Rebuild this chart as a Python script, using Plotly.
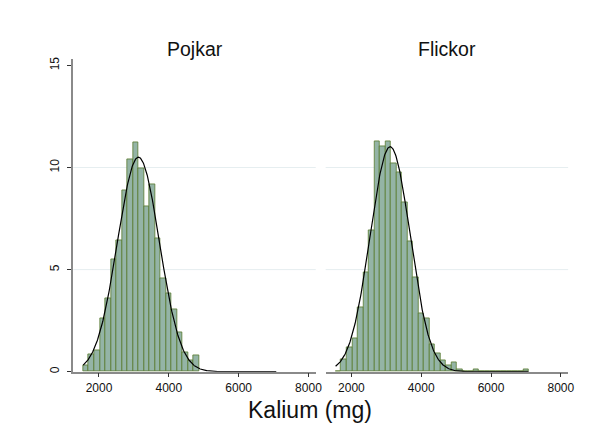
import numpy as np
import plotly.graph_objects as go

# ---- data ----
bin_start = 1548.0
bin_width = 158.0
panel_titles = ["Pojkar", "Flickor"]
x_title = "Kalium (mg)"
x_ticks = [2000, 4000, 6000, 8000]
y_ticks = [0, 5, 10, 15]

# percent per bin, bins 0..20 (Pojkar)
pojkar_pct = [0.32, 0.84, 1.06, 2.62, 3.61, 5.51, 6.45, 8.87, 10.38, 11.24,
              9.94, 8.09, 9.18, 6.52, 4.55, 3.86, 3.06, 1.93, 0.95, 0.58, 0.81]
# percent per bin, bins 0..34 (Flickor)
flickor_pct = [0.0, 0.62, 1.20, 1.62, 3.16, 4.86, 6.90, 11.30, 11.02, 11.29,
               10.19, 9.77, 8.30, 6.37, 4.60, 2.86, 2.59, 1.34, 0.88, 0.58,
               0.32, 0.45, 0.10, 0.0, 0.0, 0.12, 0.0, 0.0, 0.0, 0.0,
               0.0, 0.0, 0.0, 0.0, 0.12]
# normal overlay parameters (estimated)
pojkar_mean, pojkar_sd = 3130.0, 600.0
flickor_mean, flickor_sd = 3110.0, 572.0
n_bins_total = 35

# ---- style ----
bar_fill = "rgb(148,180,166)"
bar_line = "rgb(88,122,45)"
axis_col = "#8a8a8a"
grid_col = "#e6eef0"
font_fam = "Liberation Sans, Arial, sans-serif"

W, H = 590, 434
left_dom = [74 / W, 319 / W]
right_dom = [329 / W, 574 / W]
y_dom = [(H - 373) / H, (H - 57) / H]
x_range = [1263, 8209]
y_range = [0, 15.3]

fig = go.Figure()

curve_x = np.linspace(bin_start, bin_start + n_bins_total * bin_width, 400)


def normal_pct(x, mu, sd):
    return 100.0 * bin_width * np.exp(-0.5 * ((x - mu) / sd) ** 2) / (sd * np.sqrt(2 * np.pi))


for i, (pct, mu, sd) in enumerate([(pojkar_pct, pojkar_mean, pojkar_sd),
                                   (flickor_pct, flickor_mean, flickor_sd)]):
    xa = "x" if i == 0 else "x2"
    ya = "y" if i == 0 else "y2"
    centers = [bin_start + (k + 0.5) * bin_width for k in range(len(pct))]
    fig.add_trace(go.Bar(x=centers, y=pct, width=[bin_width] * len(pct),
                         marker=dict(color=bar_fill, line=dict(color=bar_line, width=0.8)),
                         xaxis=xa, yaxis=ya, showlegend=False, hoverinfo="skip"))
    fig.add_trace(go.Scatter(x=curve_x, y=normal_pct(curve_x, mu, sd), mode="lines",
                             line=dict(color="black", width=1.2),
                             xaxis=xa, yaxis=ya, showlegend=False, hoverinfo="skip"))

xaxis_common = dict(range=x_range, tickvals=x_ticks, ticks="outside", ticklen=4,
                    tickcolor="#333", showline=True, linecolor=axis_col, linewidth=1.5,
                    showgrid=False, zeroline=False,
                    tickfont=dict(family=font_fam, size=12, color="#111"))
yaxis_common = dict(range=y_range, tickvals=y_ticks, showgrid=False, zeroline=False)

shapes = []
for gv in y_ticks[1:-1]:
    for xr in ["x", "x2"]:
        shapes.append(dict(type="line", xref=xr + " domain", yref="y" if xr == "x" else "y2",
                           x0=0, x1=1, y0=gv, y1=gv, line=dict(color=grid_col, width=1),
                           layer="below"))

fig.update_layout(
    width=W, height=H, margin=dict(l=0, r=0, t=0, b=0),
    paper_bgcolor="white", plot_bgcolor="white", bargap=0,
    xaxis=dict(domain=left_dom, anchor="y", **xaxis_common),
    xaxis2=dict(domain=right_dom, anchor="y2", **xaxis_common),
    yaxis=dict(domain=y_dom, anchor="x", showline=True, linecolor=axis_col, linewidth=1.5,
               ticks="outside", ticklen=4, tickcolor="#333", tickangle=-90,
               ticklabelstandoff=4,
               tickfont=dict(family=font_fam, size=12, color="#111"), **yaxis_common),
    yaxis2=dict(domain=y_dom, anchor="x2", showline=False, showticklabels=False,
                ticks="", **yaxis_common),
    shapes=shapes,
    annotations=[
        dict(text=panel_titles[0], x=sum(left_dom) / 2, y=(H - 47) / H, xref="paper", yref="paper",
             xanchor="center", yanchor="middle",
             showarrow=False, font=dict(family=font_fam, size=19.5, color="#111")),
        dict(text=panel_titles[1], x=sum(right_dom) / 2, y=(H - 47) / H, xref="paper", yref="paper",
             xanchor="center", yanchor="middle",
             showarrow=False, font=dict(family=font_fam, size=19.5, color="#111")),
        dict(text=x_title, x=313 / W, y=(H - 412) / H, xref="paper", yref="paper",
             xanchor="center", yanchor="middle",
             showarrow=False, font=dict(family=font_fam, size=23, color="#111")),
    ],
)

fig.write_html("out.html")
